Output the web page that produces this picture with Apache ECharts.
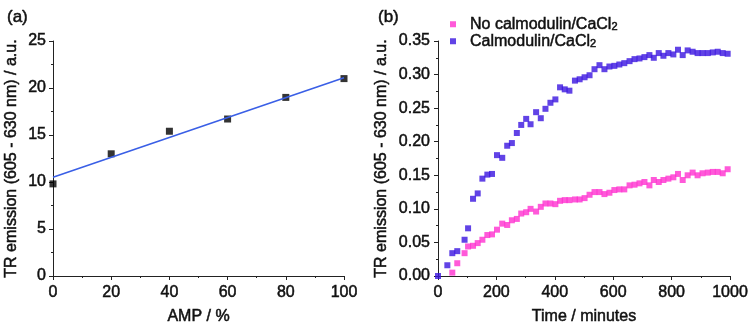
<!DOCTYPE html>
<html>
<head>
<meta charset="utf-8">
<style>
html,body{margin:0;padding:0;background:#fff;}
#c{width:752px;height:326px;}
</style>
<script src="https://cdn.jsdelivr.net/npm/echarts@6/dist/echarts.min.js"></script>
</head>
<body>
<div id="c"></div>
<script>
// Panel (a)
const ampX = [0, 20, 40, 60, 80, 100];
const ampY = [9.8, 13.0, 15.4, 16.7, 19.0, 21.0];
const fitX = [0, 100];
const fitY = [10.5, 21.1];

// Panel (b)
const calT = [0,32,49,66,91,103,120,136,152,169,185,202,220,237,253,270,285,302,317,336,352,368,385,402,418,434,450,469,485,502,519,536,553,570,587,604,621,638,656,673,690,707,724,739,756,772,789,806,822,838,855,872,889,906,924,941,958,975,992];
const calV = [0.000,0.016,0.034,0.037,0.054,0.071,0.115,0.123,0.145,0.151,0.152,0.180,0.176,0.194,0.198,0.213,0.225,0.234,0.226,0.244,0.235,0.249,0.258,0.263,0.281,0.278,0.276,0.291,0.293,0.296,0.299,0.308,0.314,0.308,0.312,0.313,0.315,0.317,0.320,0.323,0.324,0.326,0.329,0.325,0.332,0.328,0.332,0.330,0.337,0.329,0.336,0.334,0.332,0.332,0.332,0.333,0.334,0.332,0.331];
const noCalT = [49,66,91,103,120,136,152,169,185,202,220,237,253,270,285,302,317,336,352,368,385,402,418,434,450,469,485,502,519,536,553,570,587,604,621,638,656,673,690,707,724,739,756,772,789,806,822,838,855,872,889,906,924,941,958,975,992];
const noCalV = [0.005,0.019,0.034,0.044,0.045,0.049,0.054,0.061,0.062,0.069,0.078,0.076,0.083,0.085,0.093,0.095,0.100,0.096,0.103,0.108,0.108,0.107,0.112,0.113,0.113,0.114,0.114,0.116,0.121,0.125,0.125,0.122,0.124,0.128,0.129,0.129,0.135,0.136,0.138,0.140,0.135,0.143,0.140,0.143,0.145,0.147,0.152,0.143,0.150,0.154,0.150,0.153,0.154,0.155,0.155,0.153,0.159];

const ampTicks = [0, 20, 40, 60, 80, 100];
const tiY = [0, 5, 10, 15, 20, 25];
const timeTicks = [0, 200, 400, 600, 800, 1000];
const emY = [0, 0.05, 0.10, 0.15, 0.20, 0.25, 0.30, 0.35];

const legNames = ['No calmodulin/CaCl2', 'Calmodulin/CaCl2'];
const FONT = '"Liberation Sans", Arial, sans-serif';
const TXT = '#111';
const TB = { textBorderColor: '#111', textBorderWidth: 0.5 };

function zip(a, b) { return a.map((v, i) => [v, b[i]]); }

function axisCommon(extra) {
  return Object.assign({
    axisLine: { show: true, onZero: false, lineStyle: { color: '#222', width: 1 } },
    axisTick: { show: true, inside: false, length: 4, lineStyle: { color: '#222' } },
    minorTick: { show: true, splitNumber: 2, length: 2, lineStyle: { color: '#222' } },
    splitLine: { show: false },
    minorSplitLine: { show: false },
    nameTextStyle: Object.assign({ fontFamily: FONT, fontSize: 16, color: TXT }, TB),
  }, extra);
}
function lbl(extra) {
  return Object.assign({ fontFamily: FONT, fontSize: 16, color: TXT }, TB, extra);
}

const chart = echarts.init(document.getElementById('c'), null, { renderer: 'canvas' });
chart.setOption({
  backgroundColor: '#fff',
  animation: false,
  textStyle: { fontFamily: FONT },
  title: [
    { text: '(a)', left: 2, top: 4, textStyle: Object.assign({ fontFamily: FONT, fontSize: 17, fontWeight: 'normal', color: TXT }, TB) },
    { text: '(b)', left: 373, top: 4, textStyle: Object.assign({ fontFamily: FONT, fontSize: 17, fontWeight: 'normal', color: TXT }, TB) }
  ],
  legend: {
    data: legNames,
    orient: 'vertical',
    left: 445,
    top: 11,
    itemWidth: 6,
    itemHeight: 6,
    itemGap: 0,
    icon: 'rect',
    formatter: function (n) { return '{a|' + n.slice(0, -1) + '}{s|2}'; },
    textStyle: {
      fontFamily: FONT, fontSize: 16, color: TXT, padding: [0, 0, 0, 9],
      rich: {
        a: Object.assign({ fontFamily: FONT, fontSize: 16, color: TXT }, TB),
        s: Object.assign({ fontFamily: FONT, fontSize: 11, color: TXT, padding: [6, 0, 0, 0] }, TB)
      }
    }
  },
  grid: [
    { left: 53, top: 41, width: 291, height: 235, containLabel: false, outerBoundsMode: 'none' },
    { left: 438, top: 41, width: 292, height: 235, containLabel: false, outerBoundsMode: 'none' }
  ],
  xAxis: [
    axisCommon({
      gridIndex: 0, type: 'value', min: ampTicks[0], max: ampTicks[ampTicks.length - 1], interval: 20,
      name: 'AMP / %', nameLocation: 'middle', nameGap: 33,
      axisLabel: lbl({ margin: 9 })
    }),
    axisCommon({
      gridIndex: 1, type: 'value', min: timeTicks[0], max: timeTicks[timeTicks.length - 1], interval: 200,
      name: 'Time / minutes', nameLocation: 'middle', nameGap: 33,
      axisLabel: lbl({ margin: 9, formatter: v => String(v) })
    })
  ],
  yAxis: [
    axisCommon({
      gridIndex: 0, type: 'value', min: tiY[0], max: tiY[tiY.length - 1], interval: 5,
      name: 'TR emission (605 - 630 nm) / a.u.', nameLocation: 'middle', nameGap: 33,
      axisLabel: lbl({ margin: 7 })
    }),
    axisCommon({
      gridIndex: 1, type: 'value', min: emY[0], max: emY[emY.length - 1], interval: 0.05,
      name: 'TR emission (605 - 630 nm) / a.u.', nameLocation: 'middle', nameGap: 48,
      axisLabel: lbl({ margin: 8, formatter: v => v.toFixed(2) })
    })
  ],
  series: [
    {
      type: 'line', xAxisIndex: 0, yAxisIndex: 0, data: zip(fitX, fitY),
      showSymbol: false, lineStyle: { color: '#3a5fe6', width: 1.6 }, silent: true
    },
    {
      type: 'scatter', xAxisIndex: 0, yAxisIndex: 0, data: zip(ampX, ampY),
      symbol: 'rect', symbolSize: 7, itemStyle: { color: '#000' }, clip: true
    },
    {
      name: legNames[0], type: 'scatter', xAxisIndex: 1, yAxisIndex: 1, data: zip(noCalT, noCalV),
      symbol: 'rect', symbolSize: 6, itemStyle: { color: '#ff30d0' }, clip: true
    },
    {
      name: legNames[1], type: 'scatter', xAxisIndex: 1, yAxisIndex: 1, data: zip(calT, calV),
      symbol: 'rect', symbolSize: 6, itemStyle: { color: '#3a14e0' }, clip: true
    }
  ]
});
</script>
</body>
</html>
